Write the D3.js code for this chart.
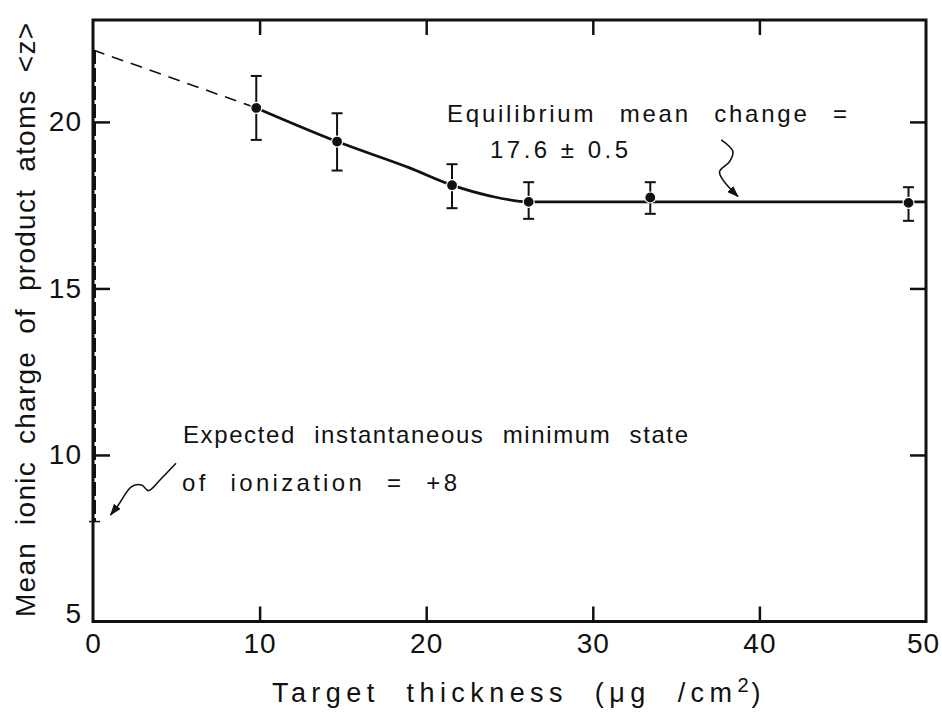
<!DOCTYPE html>
<html>
<head>
<meta charset="utf-8">
<script src="https://cdn.jsdelivr.net/npm/d3@7"></script>
<style>
  html, body { margin: 0; padding: 0; background: #fff; }
  svg { display: block; }
  text { font-family: "Liberation Sans", Arial, sans-serif; fill: #111; }
</style>
</head>
<body>
<svg id="chart" width="942" height="714"></svg>
<script>
// ---- data ----
const thickness = [9.8, 14.65, 21.55, 26.15, 33.45, 48.95];      // µg/cm²
const meanCharge = [20.42, 19.41, 18.10, 17.60, 17.73, 17.57];
const errHigh = [21.38, 20.26, 18.73, 18.19, 18.19, 18.04];
const errLow  = [19.46, 18.54, 17.41, 17.09, 17.24, 17.03];

// fitted (hand-drawn) curve through the data
const fitX = [9.8, 14.65, 19.0, 21.55, 23.8, 26.15, 30, 50];
const fitY = [20.42, 19.41, 18.62, 18.10, 17.78, 17.60, 17.60, 17.60];
// dashed extrapolation to zero thickness
const extrapX = [0, 9.8];
const extrapY = [22.16, 20.42];
// dashed vertical at zero thickness down to the minimum state +8
const zeroLineY = [22.16, 8];

const xTicks = [0, 10, 20, 30, 40, 50];
const yTicks = [5, 10, 15, 20];
const xTickLabels = ["0", "10", "20", "30", "40", "50"];
const yTickLabels = ["5", "10", "15", "20"];

// annotation arrow paths (data units)
const arrowEqX = [37.71, 38.41, 38.21, 37.61, 37.81, 38.71];
const arrowEqY = [19.46, 19.11, 18.81, 18.51, 18.26, 17.76];
const arrowMinX = [4.98, 4.02, 3.32, 2.92, 2.32, 1.52, 1.06];
const arrowMinY = [9.75, 9.25, 8.93, 9.10, 9.05, 8.50, 8.20];

// ---- layout ----
const svg = d3.select("#chart");
const x = d3.scaleLinear().domain([0, 50]).range([93, 926]);
const y = d3.scaleLinear().domain([5, 23.06]).range([621.5, 20]);

const ink = "#111";

svg.append("defs").append("marker")
  .attr("id", "ah").attr("viewBox", "0 0 10 10")
  .attr("refX", 9).attr("refY", 5)
  .attr("markerWidth", 12).attr("markerHeight", 12)
  .attr("markerUnits", "userSpaceOnUse")
  .attr("orient", "auto")
  .append("path").attr("d", "M0,1.5 L10,5 L0,8.5 Z").attr("fill", ink);

// axes (ticks inward)
const fontTick = 28;
const gB = svg.append("g").attr("transform", `translate(0,${y(5)})`)
  .call(d3.axisBottom(x).tickValues(xTicks).tickFormat((d, i) => xTickLabels[i])
    .tickSizeInner(-15).tickSizeOuter(0).tickPadding(12));
const gT = svg.append("g").attr("transform", `translate(0,${y(23.06)})`)
  .call(d3.axisTop(x).tickValues(xTicks.slice(1, -1)).tickFormat("")
    .tickSizeInner(-15).tickSizeOuter(0));
const gL = svg.append("g").attr("transform", `translate(${x(0)},0)`)
  .call(d3.axisLeft(y).tickValues(yTicks).tickFormat((d, i) => yTickLabels[i])
    .tickSizeInner(-17).tickSizeOuter(0).tickPadding(11));
const gR = svg.append("g").attr("transform", `translate(${x(50)},0)`)
  .call(d3.axisRight(y).tickValues(yTicks.slice(1)).tickFormat("")
    .tickSizeInner(-16).tickSizeOuter(0));

[gB, gT, gL, gR].forEach(g => {
  g.select(".domain").remove();
  g.selectAll(".tick line").attr("stroke", ink).attr("stroke-width", 2.5);
  g.selectAll(".tick text").attr("font-size", fontTick).attr("fill", ink)
    .attr("font-family", "Liberation Sans, Arial, sans-serif").style("letter-spacing", "1px");
});
gL.selectAll(".tick").filter(d => d === 5).select("text").attr("dy", "0.05em");
gB.selectAll(".tick").filter(d => d === 50).select("text").attr("dx", "-3");
gB.selectAll(".tick").filter(d => d === 0).select("line").remove();
gB.selectAll(".tick").filter(d => d === 50).select("line").remove();
gL.selectAll(".tick").filter(d => d === 5).select("line").remove();

// frame
svg.append("rect")
  .attr("x", x(0)).attr("y", y(23.06))
  .attr("width", x(50) - x(0)).attr("height", y(5) - y(23.06))
  .attr("fill", "none").attr("stroke", ink).attr("stroke-width", 3);

// small mark at +8 on the zero axis
svg.append("line")
  .attr("x1", x(0) - 4).attr("x2", x(0) + 7)
  .attr("y1", y(8)).attr("y2", y(8))
  .attr("stroke", ink).attr("stroke-width", 1.5);

// dashed vertical at zero thickness
svg.append("line")
  .attr("x1", x(0) + 1.5).attr("x2", x(0) + 1.5)
  .attr("y1", y(zeroLineY[0])).attr("y2", y(zeroLineY[1]))
  .attr("stroke", ink).attr("stroke-width", 3).attr("stroke-dasharray", "14,4");

// dashed extrapolation
const line = d3.line().x(d => x(d[0])).y(d => y(d[1]));
svg.append("path")
  .datum(extrapX.map((v, i) => [v, extrapY[i]]))
  .attr("d", line).attr("fill", "none").attr("stroke", ink)
  .attr("stroke-width", 1.6).attr("stroke-dasharray", "12,8");

// fitted curve
svg.append("path")
  .datum(fitX.map((v, i) => [v, fitY[i]]))
  .attr("d", line.curve(d3.curveMonotoneX))
  .attr("fill", "none").attr("stroke", ink).attr("stroke-width", 2.8);

// error bars
const pts = thickness.map((t, i) => ({ t, m: meanCharge[i], hi: errHigh[i], lo: errLow[i] }));
const eb = svg.append("g").attr("stroke", ink).attr("stroke-width", 2);
eb.selectAll(".v").data(pts).join("line")
  .attr("x1", d => x(d.t)).attr("x2", d => x(d.t))
  .attr("y1", d => y(d.hi)).attr("y2", d => y(d.lo));
eb.selectAll(".ch").data(pts).join("line")
  .attr("x1", d => x(d.t) - 5.5).attr("x2", d => x(d.t) + 5.5)
  .attr("y1", d => y(d.hi)).attr("y2", d => y(d.hi));
eb.selectAll(".cl").data(pts).join("line")
  .attr("x1", d => x(d.t) - 5.5).attr("x2", d => x(d.t) + 5.5)
  .attr("y1", d => y(d.lo)).attr("y2", d => y(d.lo));

// points
svg.append("g").selectAll("circle").data(pts).join("circle")
  .attr("cx", d => x(d.t)).attr("cy", d => y(d.m)).attr("r", 5.5)
  .attr("fill", ink).attr("stroke", "#fff").attr("stroke-width", 1.2);

// annotation arrows
const squig = d3.line().x(d => x(d[0])).y(d => y(d[1])).curve(d3.curveCatmullRom);
svg.append("path")
  .datum(arrowEqX.map((v, i) => [v, arrowEqY[i]]))
  .attr("d", squig).attr("fill", "none").attr("stroke", ink)
  .attr("stroke-width", 1.6).attr("marker-end", "url(#ah)");
svg.append("path")
  .datum(arrowMinX.map((v, i) => [v, arrowMinY[i]]))
  .attr("d", squig).attr("fill", "none").attr("stroke", ink)
  .attr("stroke-width", 1.6).attr("marker-end", "url(#ah)");

// annotation texts
function label(txt, px, py, len, size, ws) {
  svg.append("text").attr("x", px).attr("y", py)
    .attr("font-size", size).attr("textLength", len).attr("lengthAdjust", "spacing")
    .style("word-spacing", ws + "px")
    .text(txt);
}
label("Equilibrium mean change =", 447, 122, 400, 24, 14);
label("17.6 \u00B1 0.5", 490, 158, 138, 24, 0);
label("Expected instantaneous minimum state", 183, 443, 505, 24, 10);
label("of ionization = +8", 182, 491, 275, 24, 12);

// axis titles
const xt = svg.append("text").attr("x", 272).attr("y", 702)
  .attr("font-size", 27).style("word-spacing", "14px");
xt.append("tspan").text("Target thickness (\u03BCg /cm")
  .attr("textLength", 460).attr("lengthAdjust", "spacing");
xt.append("tspan").attr("dy", -10).attr("font-size", 20).text("2");
xt.append("tspan").attr("dy", 10).attr("dx", 3).text(")");
svg.append("text")
  .attr("transform", "translate(35,617) rotate(-90)")
  .attr("font-size", 28).attr("textLength", 594).attr("lengthAdjust", "spacing")
  .style("word-spacing", "8px")
  .text("Mean ionic charge of product atoms <z>");
</script>
</body>
</html>
